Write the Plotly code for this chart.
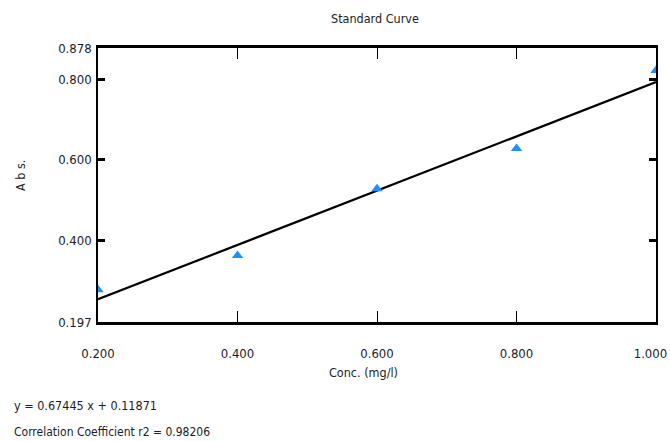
import plotly.graph_objects as go

# Data
conc = [0.2, 0.4, 0.6, 0.8, 1.0]
absorbance = [0.277, 0.362, 0.528, 0.628, 0.822]
slope = 0.67445
intercept = 0.11871
r2 = 0.98206
x_ticks = [0.2, 0.4, 0.6, 0.8, 1.0]
y_ticks = [0.197, 0.4, 0.6, 0.8, 0.878]
x_range = [0.2, 1.0]
y_range = [0.197, 0.878]

FONT = "DejaVu Sans Condensed, Liberation Sans Narrow, sans-serif"
TXT = "#1c1c2a"

fit_x = x_range
fit_y = [slope * v + intercept for v in fit_x]

fig = go.Figure()
fig.add_trace(go.Scatter(x=fit_x, y=fit_y, mode="lines",
                         line=dict(color="black", width=2.2), showlegend=False))
fig.add_trace(go.Scatter(x=conc, y=absorbance, mode="markers",
                         marker=dict(symbol="triangle-up", size=10, color="#1e8fff",
                                     line=dict(width=0)), showlegend=False))

# last x label padded so it stays inside the page, as in the reference
x_text = [f"{v:.3f}" for v in x_ticks]
x_text[-1] = x_text[-1] + "\u00a0\u00a0\u00a0"

eps = 1e-6
fig.update_layout(
    width=670, height=441,
    margin=dict(l=98, r=14, t=48, b=119, autoexpand=False),
    paper_bgcolor="white", plot_bgcolor="white",
    font=dict(family=FONT, color=TXT, size=13),
    xaxis=dict(range=[x_range[0] - eps, x_range[1] + eps], tickvals=x_ticks,
               ticktext=x_text,
               showgrid=False, zeroline=False, showline=True, linecolor="black", linewidth=2.5,
               mirror="allticks", ticks="inside", ticklen=11, tickwidth=1, tickcolor="black",
               automargin=False, ticklabelstandoff=18, ticklabeloverflow="allow",
               tickfont=dict(size=13)),
    yaxis=dict(range=[y_range[0] - eps, y_range[1] + eps], tickvals=y_ticks,
               ticktext=[f"{v:.3f}" for v in y_ticks],
               showgrid=False, zeroline=False, showline=True, linecolor="black", linewidth=1.5,
               mirror="allticks", ticks="inside", ticklen=7, tickwidth=2.5, tickcolor="black",
               automargin=False, ticklabelstandoff=2, ticklabeloverflow="allow",
               tickfont=dict(size=13)),
)

ann = dict(xref="paper", yref="paper", showarrow=False)
fig.add_annotation(text="Standard Curve", x=0.497, y=1.109, xanchor="center", yanchor="middle",
                   font=dict(size=12.5, family=FONT, color=TXT), **ann)
fig.add_annotation(text="Conc. (mg/l)", x=0.475, y=-0.186, xanchor="center", yanchor="middle",
                   font=dict(size=12.5, family=FONT, color=TXT), **ann)
fig.add_annotation(text="A b s.", x=-0.14, y=0.536, xanchor="center", yanchor="middle",
                   textangle=-90, font=dict(size=12.5, family=FONT, color=TXT), **ann)
fig.add_annotation(text=f"y = {slope} x + {intercept}",
                   x=-0.154, y=-0.303, xanchor="left", yanchor="middle",
                   font=dict(size=12.5, family=FONT, color=TXT), **ann)
fig.add_annotation(text=f"Correlation Coefficient r2 = {r2}",
                   x=-0.154, y=-0.40, xanchor="left", yanchor="middle",
                   font=dict(size=12, family=FONT, color=TXT), **ann)

fig.write_html("out.html", config={"displayModeBar": False},
               post_script="document.body.style.margin='0';document.body.style.overflow='hidden';")
